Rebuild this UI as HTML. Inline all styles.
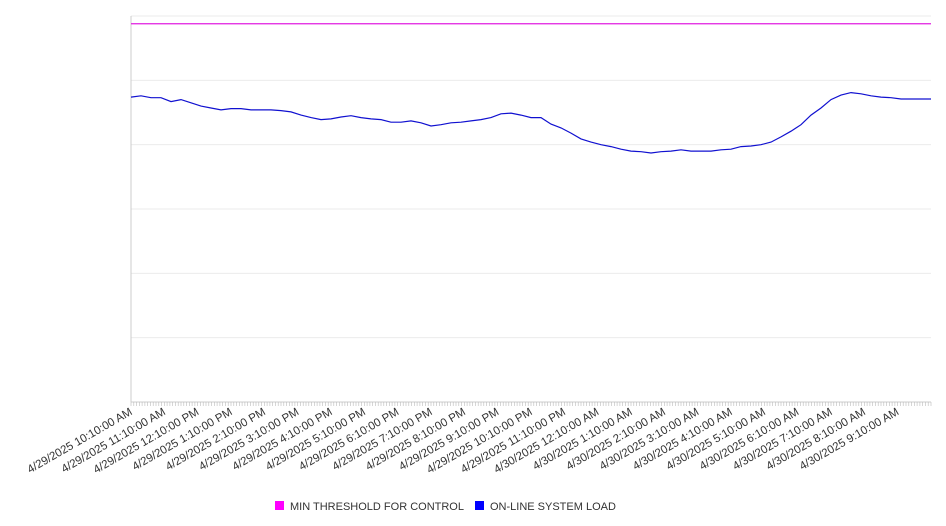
<!DOCTYPE html>
<html><head><meta charset="utf-8"><style>
html,body{margin:0;padding:0;background:#fff;width:946px;height:526px;overflow:hidden}
svg{display:block;font-family:"Liberation Sans","DejaVu Sans",sans-serif}
</style></head><body>
<svg id="chart" width="946" height="526" viewBox="0 0 946 526"></svg>
<script>
const tickLabels=["4/29/2025 10:10:00 AM","4/29/2025 11:10:00 AM","4/29/2025 12:10:00 PM","4/29/2025 1:10:00 PM","4/29/2025 2:10:00 PM","4/29/2025 3:10:00 PM","4/29/2025 4:10:00 PM","4/29/2025 5:10:00 PM","4/29/2025 6:10:00 PM","4/29/2025 7:10:00 PM","4/29/2025 8:10:00 PM","4/29/2025 9:10:00 PM","4/29/2025 10:10:00 PM","4/29/2025 11:10:00 PM","4/30/2025 12:10:00 AM","4/30/2025 1:10:00 AM","4/30/2025 2:10:00 AM","4/30/2025 3:10:00 AM","4/30/2025 4:10:00 AM","4/30/2025 5:10:00 AM","4/30/2025 6:10:00 AM","4/30/2025 7:10:00 AM","4/30/2025 8:10:00 AM","4/30/2025 9:10:00 AM"];
const thresholdValue=58.8;
const loadValues=[47.4,47.6,47.3,47.3,46.7,47.0,46.5,46.0,45.7,45.4,45.6,45.6,45.4,45.4,45.4,45.3,45.1,44.6,44.2,43.9,44.0,44.3,44.5,44.2,44.0,43.9,43.5,43.5,43.7,43.4,42.9,43.1,43.4,43.5,43.7,43.9,44.2,44.8,44.9,44.6,44.2,44.2,43.2,42.6,41.8,40.9,40.4,40.0,39.7,39.3,39.0,38.9,38.7,38.9,39.0,39.2,39.0,39.0,39.0,39.2,39.3,39.7,39.8,40.0,40.4,41.2,42.1,43.1,44.6,45.7,47.0,47.7,48.1,47.9,47.6,47.4,47.3,47.1,47.1,47.1,47.1];
const yTicks=[0,10,20,30,40,50,60];
const NS="http://www.w3.org/2000/svg";
const svg=document.getElementById('chart');
const L=131,R=931,T=16,B=402,yMax=60;
const yS=v=>B-(v/yMax)*(B-T);
const xS=i=>L+i*(R-L)/(loadValues.length-1);
const xT=i=>L+i*(R-L)/tickLabels.length;
function mk(tag,attrs){const e=document.createElementNS(NS,tag);for(const k in attrs)e.setAttribute(k,attrs[k]);svg.appendChild(e);return e;}
yTicks.forEach(t=>{if(t===0)return;
const g=mk('line',{x1:L,x2:R,y1:yS(t),y2:yS(t),stroke:'#ebebeb','stroke-width':1});

});
const ya=mk('line',{x1:L,x2:L,y1:T,y2:B,stroke:'#ccc'});


const xa=mk('line',{x1:L,x2:R,y1:B,y2:B,stroke:'#ccc'});


let d='';for(let i=0;i<=288;i++){const x=L+i*(R-L)/288;d+=`M${x.toFixed(1)},${B}v4`;}
const mt=mk('path',{d:d,stroke:'#bbb','stroke-width':0.6});


tickLabels.forEach((s,i)=>{const x=xT(i)+2,y=B+12;
const t=mk('text',{x:x,y:y,'font-size':11.5,fill:'#333','text-anchor':'end',transform:`rotate(-30 ${x} ${y})`});
t.textContent=s;

});
const th=mk('line',{x1:L,x2:R,y1:yS(thresholdValue),y2:yS(thresholdValue),stroke:'#e01ee0','stroke-width':1.2});


const pl=mk('polyline',{points:loadValues.map((v,i)=>xS(i).toFixed(1)+','+yS(v).toFixed(1)).join(' '),fill:'none',stroke:'#1010d0','stroke-width':1.2});


const legend=[["MIN THRESHOLD FOR CONTROL","#ff00ff",275],["ON-LINE SYSTEM LOAD","#0000ff",475]];
legend.forEach(([n,c,x])=>{
const r=mk('rect',{x:x,y:501,width:9,height:9,fill:c});


const t=mk('text',{x:x+15,y:510,'font-size':11,fill:'#333'});t.textContent=n;

});
</script>
</body></html>
